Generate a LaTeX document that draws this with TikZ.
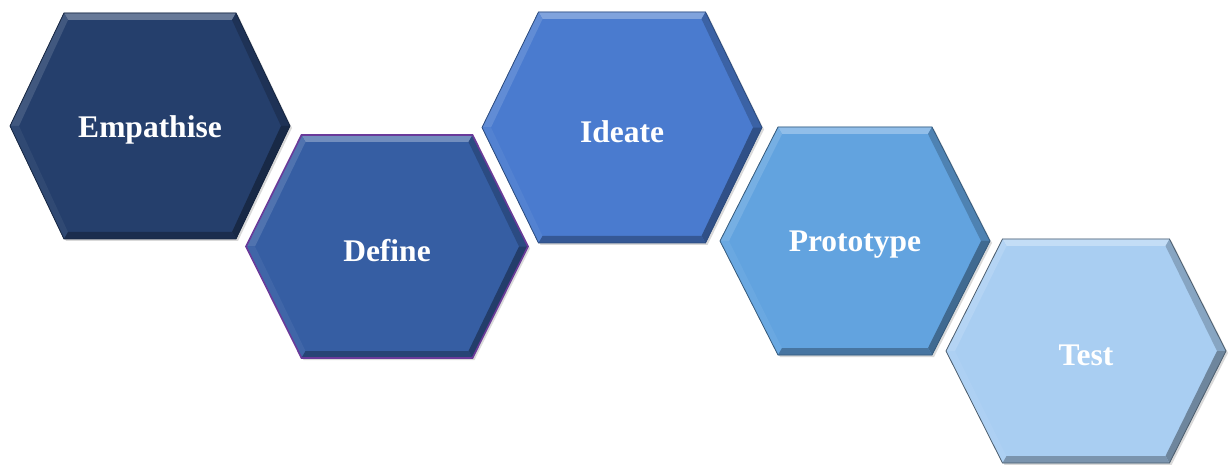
\documentclass[tikz,border=0pt]{standalone}
\usepackage{fontspec}
\setmainfont{Liberation Serif}
\definecolor{cEmp}{HTML}{253F6C}
\definecolor{cDef}{HTML}{365EA3}
\definecolor{cIde}{HTML}{4A7BCF}
\definecolor{cPro}{HTML}{62A3DF}
\definecolor{cTes}{HTML}{A9CEF2}
\definecolor{cPurple}{HTML}{6A3A9A}
\tikzset{
  hexlabel/.style={text=white,font=\fontsize{31.5}{36}\selectfont\bfseries,inner sep=0pt},
}
% #1 name, #2 cx, #3 cy, #4 a (half width), #5 b (half height), #6 c (half top edge), #7 colour, #8 text, #9 outline options
\newcommand\hexa[9]{%
\begin{scope}[shift={(#2,#3)}]
  \fill[black,opacity=0.15] (-#4+2,2) -- (-#6+2,-#5+2) -- (#6+2,-#5+2) -- (#4+2,2) -- (#6+2,#5+2) -- (-#6+2,#5+2) -- cycle;
  \coordinate (O1) at (-#4,0); \coordinate (O2) at (-#6,-#5); \coordinate (O3) at (#6,-#5);
  \coordinate (O4) at (#4,0);  \coordinate (O5) at (#6,#5);   \coordinate (O6) at (-#6,#5);
  \coordinate (I1) at (-#4+9,0); \coordinate (I2) at (-#6+4,-#5+7); \coordinate (I3) at (#6-4,-#5+7);
  \coordinate (I4) at (#4-9,0);  \coordinate (I5) at (#6-4,#5-7);   \coordinate (I6) at (-#6+4,#5-7);
  \fill[#7] (O1) -- (O2) -- (O3) -- (O4) -- (O5) -- (O6) -- cycle;
  \fill[#7!70!white] (O2) -- (O3) -- (I3) -- (I2) -- cycle;
  \fill[#7!87!white] (O1) -- (O2) -- (I2) -- (I1) -- cycle;
  \fill[#7!95!white] (O6) -- (O1) -- (I1) -- (I6) -- cycle;
  \fill[#7!80!black] (O3) -- (O4) -- (I4) -- (I3) -- cycle;
  \fill[#7!65!black] (O4) -- (O5) -- (I5) -- (I4) -- cycle;
  \fill[#7!72!black] (O5) -- (O6) -- (I6) -- (I5) -- cycle;
  \draw[line width=0.8pt,line join=miter,#9] (O1) -- (O2) -- (O3) -- (O4) -- (O5) -- (O6) -- cycle;
\end{scope}
\node[hexlabel] (#1) at (#2,#3+4) {#8};}
\begin{document}
\begin{tikzpicture}[x=1pt,y=-1pt]
\useasboundingbox[fill=white] (0,0) rectangle (1229,465);
\hexa{emp}{150}{126}{140}{113}{86}{cEmp}{Empathise}{cEmp!60!black}
\hexa{def}{387}{246.5}{141}{111.5}{85.5}{cDef}{Define}{cPurple,line width=1.6pt}
\hexa{ide}{622}{127.5}{140}{115.5}{83.5}{cIde}{Ideate}{cIde!60!black}
\hexa{pro}{855}{241}{135}{114}{77}{cPro}{Prototype}{cPro!55!black}
\hexa{tes}{1086}{351}{140}{112}{83.5}{cTes}{Test}{cTes!45!black}
\end{tikzpicture}
\end{document}
